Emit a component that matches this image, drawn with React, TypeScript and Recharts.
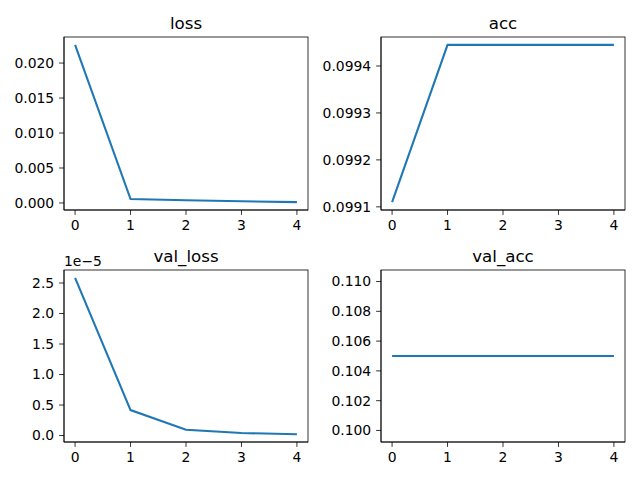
import { LineChart, Line, XAxis, YAxis } from "recharts";

const epochs = [0, 1, 2, 3, 4];
const loss = [0.0226, 0.00056, 0.0004, 0.00025, 0.00012];
const acc = [0.09911, 0.099445, 0.099445, 0.099445, 0.099445];
const valLoss = [2.585e-5, 0.417e-5, 0.095e-5, 0.04e-5, 0.022e-5];
const valAcc = [0.105, 0.105, 0.105, 0.105, 0.105];

const xTicks = [0, 1, 2, 3, 4];
const lossTicks = [0, 0.005, 0.01, 0.015, 0.02];
const accTicks = [0.0991, 0.0992, 0.0993, 0.0994];
const valLossTicks = [0, 0.5e-5, 1e-5, 1.5e-5, 2e-5, 2.5e-5];
const valAccTicks = [0.1, 0.102, 0.104, 0.106, 0.108, 0.11];

const FONT = "DejaVu Sans, sans-serif";
const BLUE = "#1f77b4";

// matplotlib style autoscale: 5% margin on each side
const pad = (vals: number[]): [number, number] => {
  const lo = Math.min(...vals);
  const hi = Math.max(...vals);
  if (hi === lo) {
    const d = Math.abs(lo) * 0.05;
    return [lo - d * 1.1, hi + d * 1.1];
  }
  const r = hi - lo;
  return [lo - r * 0.05, hi + r * 0.05];
};

type PanelProps = {
  title: string;
  values: number[];
  ticks: number[];
  fmt: (v: number) => string;
  ox: number;
  oy: number;
  box: { left: number; right: number; top: number; bottom: number };
};

const Panel = ({ title, values, ticks, fmt, ox, oy, box }: PanelProps) => {
  const data = epochs.map((e, i) => ({ epoch: e, value: values[i] }));
  const domain = pad(values);
  const tickStyle = { fill: "#000", fontSize: 13.9, fontFamily: FONT };
  return (
    <div style={{ position: "absolute", left: ox, top: oy }}>
      <LineChart
        width={320}
        height={240}
        data={data}
        margin={{ top: box.top - oy, right: ox + 320 - box.right, left: 0, bottom: 0 }}
      >
        <XAxis
          dataKey="epoch"
          type="number"
          domain={[-0.2, 4.2]}
          ticks={xTicks}
          allowDataOverflow
          height={oy + 240 - box.bottom}
          tick={tickStyle}
          tickSize={4.9}
          tickMargin={4.9}
          axisLine={{ stroke: "#000", strokeWidth: 0.8 }}
          tickLine={{ stroke: "#000", strokeWidth: 0.8 }}
        />
        <YAxis
          type="number"
          domain={domain}
          ticks={ticks}
          allowDataOverflow
          width={box.left - ox}
          tick={tickStyle}
          tickFormatter={fmt}
          tickSize={4.9}
          tickMargin={4.9}
          axisLine={{ stroke: "#000", strokeWidth: 0.8 }}
          tickLine={{ stroke: "#000", strokeWidth: 0.8 }}
        />
        <Line
          type="linear"
          dataKey="value"
          stroke={BLUE}
          strokeWidth={2.08}
          dot={false}
          isAnimationActive={false}
        />
      </LineChart>
      <svg
        width={320}
        height={240}
        style={{ position: "absolute", left: 0, top: 0, pointerEvents: "none" }}
      >
        <rect
          x={box.left - ox}
          y={box.top - oy}
          width={box.right - box.left}
          height={box.bottom - box.top}
          fill="none"
          stroke="#000"
          strokeWidth={0.8}
        />
        <text
          x={(box.left + box.right) / 2 - ox}
          y={box.top - oy - 8.3}
          textAnchor="middle"
          fontSize={16.67}
          fontFamily={FONT}
          fill="#000"
        >
          {title}
        </text>
      </svg>
    </div>
  );
};

export default function App() {
  return (
    <div
      style={{
        position: "absolute",
        left: 0,
        top: 0,
        width: 640,
        height: 480,
        background: "#fff",
      }}
    >
      <Panel
        title="loss"
        values={loss}
        ticks={lossTicks}
        fmt={(v) => v.toFixed(3)}
        ox={0}
        oy={0}
        box={{ left: 64, right: 308, top: 37, bottom: 210 }}
      />
      <Panel
        title="acc"
        values={acc}
        ticks={accTicks}
        fmt={(v) => v.toFixed(4)}
        ox={320}
        oy={0}
        box={{ left: 381, right: 625, top: 37, bottom: 210 }}
      />
      <Panel
        title="val_loss"
        values={valLoss}
        ticks={valLossTicks}
        fmt={(v) => (v / 1e-5).toFixed(1)}
        ox={0}
        oy={240}
        box={{ left: 64, right: 308, top: 270, bottom: 442 }}
      />
      <Panel
        title="val_acc"
        values={valAcc}
        ticks={valAccTicks}
        fmt={(v) => v.toFixed(3)}
        ox={320}
        oy={240}
        box={{ left: 381, right: 625, top: 270, bottom: 442 }}
      />
      <svg
        width={640}
        height={480}
        style={{ position: "absolute", left: 0, top: 0, pointerEvents: "none" }}
      >
        <text x={64} y={266} fontSize={13.9} fontFamily={FONT} fill="#000">
          1e−5
        </text>
      </svg>
    </div>
  );
}
